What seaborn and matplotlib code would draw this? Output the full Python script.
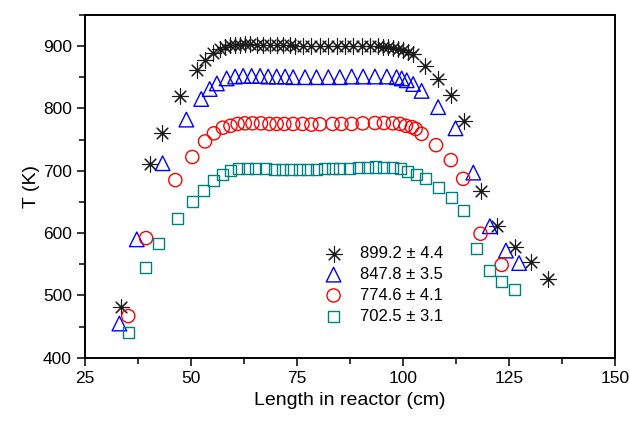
import matplotlib
matplotlib.use("Agg")
import matplotlib.pyplot as plt
from matplotlib.ticker import MultipleLocator
import seaborn as sns
import pandas as pd

# Temperature profiles along the reactor for four set-points
x_899 = [33.5, 40.3, 43.2, 47.4, 51.4, 53.3, 55.2, 56.8, 58.0, 59.2, 60.4, 61.6,
         62.7, 63.9, 65.5, 67.0, 68.6, 70.2, 71.8, 73.3, 74.5, 76.5, 78.4, 80.4,
         82.4, 84.4, 86.3, 88.3, 90.3, 92.2, 94.2, 95.4, 96.5, 97.7, 98.9, 100.1,
         101.3, 102.4, 105.2, 108.3, 111.4, 114.4, 118.3, 122.3, 126.4, 130.2, 134.3]
y_899 = [481, 711, 760, 820, 862, 878, 889, 895, 899, 901, 902, 902,
         903, 903, 902, 902, 902, 901, 901, 901, 900, 900, 900, 900,
         900, 900, 900, 900, 900, 900, 899.5, 899, 898, 897, 895, 893,
         890, 887, 868, 847, 822, 780, 668, 611, 577, 553, 526]

x_848 = [33.1, 37.2, 43.3, 48.9, 52.4, 54.4, 56.1, 58.4, 60.4, 62.3, 64.3, 66.3,
         68.2, 70.2, 72.2, 74.1, 76.9, 79.6, 82.4, 85.1, 87.9, 90.6, 93.4, 96.2,
         98.5, 99.7, 100.9, 102.4, 104.4, 108.3, 112.4, 116.6, 120.5, 124.3, 127.4]
y_848 = [455, 590, 712, 782, 815, 831, 840, 848, 851, 852, 852, 852,
         851, 851, 851, 850, 850, 850, 850, 850, 851, 851, 851, 851,
         850, 848, 845, 839, 828, 802, 768, 697, 611, 572, 552]

x_775 = [35.2, 39.4, 46.3, 50.3, 53.3, 55.4, 57.5, 59.3, 61.0, 62.7, 64.5, 66.5,
         68.5, 70.2, 72.0, 74.1, 76.3, 78.4, 80.4, 83.4, 85.5, 87.9, 90.5, 93.4,
         95.5, 97.6, 99.3, 100.7, 102.1, 103.0, 104.4, 107.8, 111.3, 114.2, 118.3, 123.3]
y_775 = [467, 592, 685, 722, 747, 760, 769, 772, 775, 776, 776, 776,
         775, 775, 775, 775, 775, 774, 774.5, 775, 775, 775, 776, 776.5,
         776.5, 776, 775, 772, 770, 767, 759, 741, 717, 687, 599, 549]

x_703 = [35.2, 39.3, 42.3, 46.8, 50.3, 52.9, 55.3, 57.4, 59.4, 61.3, 63.3, 65.3,
         67.5, 69.6, 71.5, 73.6, 75.5, 77.5, 79.5, 81.4, 83.3, 85.1, 87.3, 89.5,
         91.6, 93.6, 95.5, 97.6, 99.5, 101.0, 103.2, 105.4, 108.3, 111.4, 114.2,
         117.4, 120.4, 123.3, 126.3]
y_703 = [441, 545, 584, 624, 651, 669, 684, 694, 700, 703, 703, 703,
         703, 702, 702, 702, 702, 702, 702, 703, 703, 703, 704, 705,
         705.5, 706, 705.5, 704.5, 703, 699, 694, 687, 673, 657, 636,
         575, 540, 523, 509]

labels = ["899.2 \u00b1 4.4", "847.8 \u00b1 3.5", "774.6 \u00b1 4.1", "702.5 \u00b1 3.1"]

series = [
    (x_899, y_899, (8, 2, 0), "#1a1a1a", 11, 0.8),
    (x_848, y_848, "^", "#0000ff", 10.5, 1.0),
    (x_775, y_775, "o", "#ff0000", 9.5, 1.0),
    (x_703, y_703, "s", "#008080", 8, 1.0),
]

sns.set_theme(style="white")
plt.rcParams["font.family"] = ["Liberation Sans", "DejaVu Sans"]
plt.rcParams["text.color"] = "black"

fig = plt.figure(figsize=(6.3, 4.23), dpi=100)
ax = fig.add_axes([0.135, 0.154, 0.841, 0.811])

for (xs, ys, mk, col, ms, lw), lab in zip(series, labels):
    df = pd.DataFrame({"x": xs, "y": ys})
    style = dict(marker=mk, s=ms ** 2, color=col, linewidth=lw, label=lab)
    if mk in ("^", "o", "s"):
        # open symbols: outline only
        style.update(facecolor="none", edgecolor=col)
    sns.scatterplot(data=df, x="x", y="y", ax=ax, **style)

ax.set_xlim(25, 150)
ax.set_ylim(400, 950)
ax.xaxis.set_major_locator(MultipleLocator(25))
ax.xaxis.set_minor_locator(MultipleLocator(12.5))
ax.yaxis.set_major_locator(MultipleLocator(100))
ax.yaxis.set_minor_locator(MultipleLocator(50))
ax.set_yticks([400, 500, 600, 700, 800, 900])

for sp in ax.spines.values():
    sp.set_visible(True)
    sp.set_color("black")
    sp.set_linewidth(1.4)

ax.tick_params(axis="both", which="major", direction="out", length=6, width=1.1,
               color="black", labelsize=12.5, labelcolor="black",
               bottom=True, left=True, top=False, right=False)
ax.tick_params(axis="both", which="minor", direction="out", length=4, width=1.1,
               color="black", bottom=True, left=True, top=False, right=False)

ax.set_xlabel("Length in reactor (cm)", fontsize=14, color="black", labelpad=4)
ax.set_ylabel("T (K)", fontsize=14, color="black", labelpad=2)

ax.legend(loc="upper left", bbox_to_anchor=(0.425, 0.345), frameon=False,
          fontsize=12, handlelength=2, handletextpad=0.6, labelspacing=0.35,
          borderaxespad=0, labelcolor="black")

fig.savefig("out.png", dpi=100)
